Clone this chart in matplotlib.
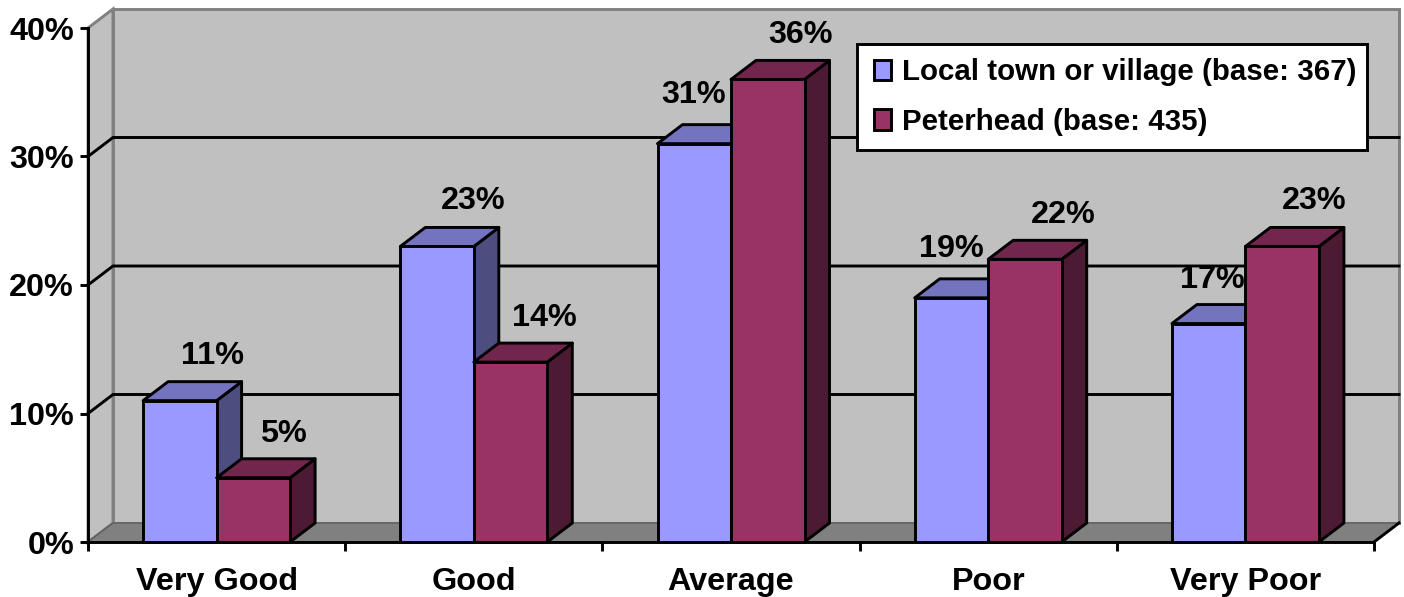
import matplotlib
matplotlib.use("Agg")
import matplotlib.pyplot as plt
from matplotlib.patches import Polygon, Patch, Rectangle
from matplotlib.colors import to_rgb

categories = ["Very Good", "Good", "Average", "Poor", "Very Poor"]
local_town = [11, 23, 31, 19, 17]
peterhead = [5, 14, 36, 22, 23]
series_names = ["Local town or village (base: 367)", "Peterhead (base: 435)"]
y_ticks = [0, 10, 20, 30, 40]

# label offsets from the bar top centre, in px (moved by hand in the original)
local_nudge = [(33, 45), (36, 45), (-1, 49), (0, 49), (4, 44)]
peterhead_nudge = [(30, 44), (34, 44), (33, 44), (38, 44), (32, 45)]

LOCAL_COLOR = "#9999FF"
PETERHEAD_COLOR = "#993366"
WALL_COLOR = "#C0C0C0"
FLOOR_COLOR = "#808080"

# 1 category = 257.2 px, 1% = 12.85 px
DX = 25 / 257.2
DY = 19 / 12.85
BAR_WIDTH = 73.5 / 257.2
LW = 2.1
PX = 0.72  # px to points at dpi 100

plt.rcParams["font.family"] = ["Liberation Sans", "DejaVu Sans"]
plt.rcParams["font.weight"] = "bold"


def shade(color, factor):
    return tuple(c * factor for c in to_rgb(color))


def draw_bar(ax, x, value, color, z):
    front = [(x, 0), (x + BAR_WIDTH, 0), (x + BAR_WIDTH, value), (x, value)]
    top = [(x, value), (x + BAR_WIDTH, value),
           (x + BAR_WIDTH + DX, value + DY), (x + DX, value + DY)]
    side = [(x + BAR_WIDTH, 0), (x + BAR_WIDTH + DX, DY),
            (x + BAR_WIDTH + DX, value + DY), (x + BAR_WIDTH, value)]
    for pts, col in [(side, shade(color, 0.5)), (top, shade(color, 0.75)), (front, color)]:
        ax.add_patch(Polygon(pts, closed=True, facecolor=col, edgecolor="black",
                             linewidth=LW, joinstyle="round", clip_on=False, zorder=z))


fig = plt.figure(figsize=(14.04, 5.97), dpi=100)
ax = fig.add_axes([88 / 1404, 1 - 542 / 597, (1374 - 88) / 1404, (542 - 28) / 597])
ax.set_xlim(0, len(categories))
ax.set_ylim(y_ticks[0], y_ticks[-1])
n = len(categories)
top_val = y_ticks[-1]

# walls and floor
ax.add_patch(Polygon([(DX, DY), (n + DX, DY), (n + DX, top_val + DY), (DX, top_val + DY)],
                     facecolor=WALL_COLOR, edgecolor=FLOOR_COLOR, linewidth=LW,
                     clip_on=False, zorder=1))
ax.add_patch(Polygon([(0, 0), (DX, DY), (DX, top_val + DY), (0, top_val)],
                     facecolor=WALL_COLOR, edgecolor=FLOOR_COLOR, linewidth=LW,
                     clip_on=False, zorder=1))
ax.add_patch(Polygon([(0, 0), (n, 0), (n + DX, DY), (DX, DY)],
                     facecolor=FLOOR_COLOR, edgecolor="#555555", linewidth=0.8,
                     clip_on=False, zorder=1.5))
ax.plot([n, n + DX], [0, DY], color="black", lw=LW, clip_on=False, zorder=1.6)

# gridlines on side wall and back wall
for v in y_ticks[1:-1]:
    ax.plot([0, DX, n + DX], [v, v + DY, v + DY], color="black", lw=LW,
            clip_on=False, zorder=2, solid_joinstyle="miter")

# bars
gap = (1 - 2 * BAR_WIDTH) / 2
for i in range(n):
    draw_bar(ax, i + gap, local_town[i], LOCAL_COLOR, 3 + i * 0.1)
    draw_bar(ax, i + gap + BAR_WIDTH, peterhead[i], PETERHEAD_COLOR, 3.05 + i * 0.1)

# value labels
for i in range(n):
    pairs = [(i + gap, local_town[i], local_nudge[i]),
             (i + gap + BAR_WIDTH, peterhead[i], peterhead_nudge[i])]
    for x, value, nudge in pairs:
        ax.annotate(f"{value}%", (x + BAR_WIDTH / 2, value),
                    xytext=(nudge[0] * PX, nudge[1] * PX),
                    textcoords="offset points", ha="center", va="center",
                    fontsize=23.3, fontweight="bold", zorder=6)

# axes
for name in ["top", "right"]:
    ax.spines[name].set_visible(False)
for name in ["left", "bottom"]:
    ax.spines[name].set_linewidth(LW)
    ax.spines[name].set_zorder(2.5)
ax.set_yticks(y_ticks)
ax.set_yticklabels([f"{v}%" for v in y_ticks], fontsize=23.3, fontweight="bold")
ax.tick_params(axis="y", length=6, width=LW, pad=4)
ax.set_xticks(range(n + 1))
ax.set_xticklabels([])
ax.tick_params(axis="x", length=6.5, width=LW)
ax.set_xticks([i + 0.5 for i in range(n)], minor=True)
ax.set_xticklabels(categories, minor=True, fontsize=23.3, fontweight="bold")
ax.tick_params(axis="x", which="minor", length=0, pad=18)
ax.patch.set_visible(False)

# legend box drawn apart so its size can follow the original
fig.add_artist(Rectangle((857 / 1404, 1 - 150 / 597), 510 / 1404, 106 / 597,
                         transform=fig.transFigure, facecolor="white",
                         edgecolor="black", linewidth=LW, zorder=6.5))
handles = [Patch(facecolor=LOCAL_COLOR, edgecolor="black", linewidth=LW),
           Patch(facecolor=PETERHEAD_COLOR, edgecolor="black", linewidth=LW)]
leg = fig.legend(handles, series_names, loc="upper left",
                 bbox_to_anchor=(874 / 1404, 1 - 58.5 / 597), bbox_transform=fig.transFigure,
                 borderaxespad=0, frameon=False, fontsize=21.25, handlelength=0.58,
                 handleheight=0.68, handletextpad=0.36, labelspacing=0.72, borderpad=0)
leg.set_zorder(7)

fig.savefig("out.png", dpi=100)
